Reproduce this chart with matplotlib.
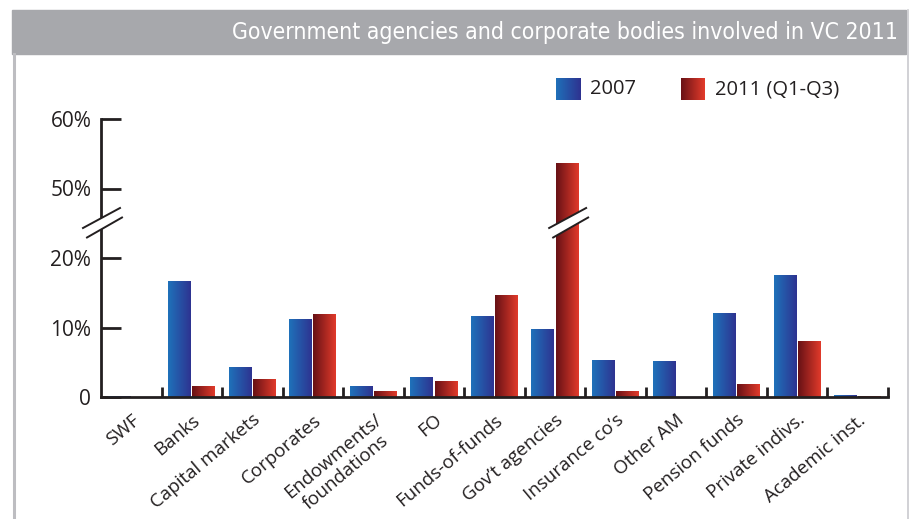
import numpy as np
import matplotlib
matplotlib.use("Agg")
import matplotlib.pyplot as plt
from matplotlib.colors import LinearSegmentedColormap
from matplotlib.lines import Line2D
from matplotlib.patches import Polygon, Rectangle

categories = [
    "SWF", "Banks", "Capital markets", "Corporates", "Endowments/\nfoundations",
    "FO", "Funds-of-funds", "Gov\u2019t agencies", "Insurance co\u2019s",
    "Other AM", "Pension funds", "Private indivs.", "Academic inst.",
]
share_2007 = [0.2, 16.8, 4.4, 11.3, 1.6, 2.9, 11.7, 9.9, 5.4, 5.3, 12.2, 17.6, 0.4]
share_2011 = [0.0, 1.6, 2.6, 12.0, 1.0, 2.4, 14.8, 53.8, 1.0, 0.0, 1.9, 8.2, 0.15]
series_labels = ["2007", "2011 (Q1-Q3)"]
y_ticks = [0, 10, 20, 50, 60]
y_tick_labels = ["0", "10%", "20%", "50%", "60%"]
title = "Government agencies and corporate bodies involved in VC 2011"

W, H = 911, 519
INK = "#231f20"
BLUE = LinearSegmentedColormap.from_list("blue", ["#1f70b9", "#2e3290"])
RED = LinearSegmentedColormap.from_list("red", ["#6a1216", "#e33b2b"])
GRAD = np.linspace(0, 1, 64).reshape(1, -1)

plt.rcParams["font.family"] = ["Open Sans", "DejaVu Sans"]


def fx(px):
    return px / W


def fy(py):
    return 1 - py / H


# broken y axis: 20..50 squeezed into a small gap
def fwd(v):
    v = np.asarray(v, dtype=float)
    return np.where(v <= 23, v, np.where(v >= 47, v - 20, 23 + (v - 23) / 6))


def inv(u):
    u = np.asarray(u, dtype=float)
    return np.where(u <= 23, u, np.where(u >= 27, u + 20, 23 + (u - 23) * 6))


fig = plt.figure(figsize=(W / 100, H / 100), dpi=100)
ax = fig.add_axes([fx(101), fy(397), fx(888) - fx(101), fy(119) - fy(397)])
ax.set_yscale("function", functions=(fwd, inv))

x = np.arange(len(categories))
width = 0.38
bars_a = ax.bar(x - 0.2, share_2007, width=width, color="none", linewidth=0)
bars_b = ax.bar(x + 0.2, share_2011, width=width, color="none", linewidth=0)
for bars, cmap in ((bars_a, BLUE), (bars_b, RED)):
    for bar in bars:
        h = bar.get_height()
        if h <= 0:
            continue
        x0 = bar.get_x()
        ax.imshow(GRAD, extent=[x0, x0 + bar.get_width(), 0, h], aspect="auto",
                  cmap=cmap, interpolation="bilinear", zorder=2)

ax.set_xlim(-0.5, len(categories) - 0.5)
ax.set_ylim(0, 60)

for side in ("top", "right"):
    ax.spines[side].set_visible(False)
for side in ("left", "bottom"):
    ax.spines[side].set_color(INK)
    ax.spines[side].set_linewidth(2)

ax.set_yticks(y_ticks, y_tick_labels)
ax.yaxis.set_minor_locator(matplotlib.ticker.NullLocator())
ax.tick_params(axis="y", direction="in", length=14.5, width=2, color=INK,
               pad=7, labelsize=15, labelcolor=INK)

ax.set_xticks(x, categories, rotation=40, ha="right", va="top",
              rotation_mode="anchor", multialignment="center")
ax.set_xticks(list(x + 0.5), minor=True)
ax.tick_params(axis="x", which="major", length=0, pad=10, labelsize=13.5,
               labelcolor=INK)
ax.tick_params(axis="x", which="minor", direction="in", length=7, width=2,
               color=INK)

# title banner and frame
fig.add_artist(Rectangle((fx(12), fy(54)), fx(906) - fx(12), fy(10) - fy(54),
                         transform=fig.transFigure, color="#a7a8ac", zorder=1))
fig.text(fx(898), fy(32), title, ha="right", va="center", color="white",
         fontsize=16.5, family=["Liberation Sans Narrow", "DejaVu Sans"],
         fontstretch="condensed", zorder=3)
fig.add_artist(Line2D([fx(13.5), fx(13.5)], [fy(54), 0], transform=fig.transFigure,
                      color="#bdbdc1", linewidth=2.2))
fig.add_artist(Line2D([fx(907.5), fx(907.5)], [fy(10), 0], transform=fig.transFigure,
                      color="#cacace", linewidth=1.2))

# legend
for (sx, tx), cmap, label in zip(((556, 590), (681, 715)), (BLUE, RED), series_labels):
    sw = fig.add_axes([fx(sx), fy(100), fx(24), fy(78) - fy(100)])
    sw.imshow(GRAD, aspect="auto", cmap=cmap, interpolation="bilinear")
    sw.set_axis_off()
    fig.text(fx(tx), fy(89), label, ha="left", va="center", fontsize=14.5, color=INK)


# break marks, shape given in pixels relative to a centre x
def draw_break(cx):
    up = [(cx - 18, 228), (cx + 19, 208)]
    lo = [(cx - 14, 237.5), (cx + 21, 217.5)]
    pts = [up[0], up[1], lo[1], lo[0]]
    fig.add_artist(Polygon([(fx(a), fy(b)) for a, b in pts], closed=True,
                           transform=fig.transFigure, facecolor="white",
                           edgecolor="none", zorder=5))
    for seg in (up, lo):
        fig.add_artist(Line2D([fx(a) for a, _ in seg], [fy(b) for _, b in seg],
                              transform=fig.transFigure, color=INK,
                              linewidth=1.4, zorder=6))


draw_break(101)
gx = ax.transData.transform((x[7] + 0.2, 0))[0]
draw_break(gx)

fig.savefig("out.png", dpi=100)
